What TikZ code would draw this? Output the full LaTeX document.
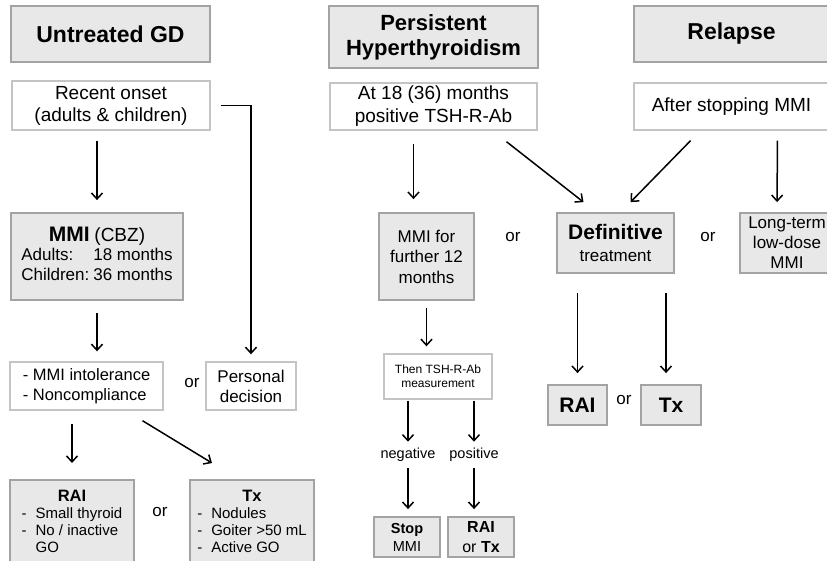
\documentclass[tikz,border=0pt]{standalone}
\usepackage{fontspec}
\setmainfont{Liberation Sans}
\usetikzlibrary{arrows.meta,calc}
\definecolor{boxfill}{HTML}{E8E8E8}
\definecolor{boxline}{HTML}{A3A3A3}
\definecolor{lightline}{HTML}{C4C4C4}
\newcommand{\fsz}[2]{\fontsize{#1}{#2}\selectfont}
\tikzset{title box/.style={draw=boxline, fill=boxfill, line width=2pt, align=center, font=\fsz{23}{25}\bfseries}}
\tikzset{grey box/.style={draw=boxline, fill=boxfill, line width=1.8pt, align=center, inner sep=2pt}}
\tikzset{white box/.style={draw=lightline, fill=white, line width=1.4pt, align=center, inner sep=2pt}}
\tikzset{or label/.style={font=\fsz{17}{20}}}
\tikzset{flow/.style={-{Straight Barb[length=6pt,width=11pt]}, line width=1.5pt, shorten <=10pt, shorten >=10pt}}

\begin{document}
\begin{tikzpicture}[x=1pt,y=-1pt]
\useasboundingbox (0,0) rectangle (827,560);
\clip (0,0) rectangle (827,560);
% column headers
\node[title box, minimum width=199pt, minimum height=56pt] (untreated) at (110.5,34) {Untreated GD};
\node[title box, font=\fsz{22}{25}\bfseries, minimum width=209pt, minimum height=62pt] (persistent) at (433.5,37) {Persistent\\Hyperthyroidism};
\node[title box, minimum width=195pt, minimum height=56pt] (relapse) at (731.5,34) {Relapse};
% situations
\node[white box, font=\fsz{19}{22}, minimum width=198pt, minimum height=49pt] (onset) at (111,105.5) {Recent onset\\(adults \& children)};
\node[white box, font=\fsz{19}{23}, minimum width=207pt, minimum height=47pt] (pos18) at (433.5,106.5) {At 18 (36) months\\positive TSH-R-Ab};
\node[white box, font=\fsz{19}{22}, minimum width=195pt, minimum height=47pt] (stopping) at (731.5,106.5) {After stopping MMI};
% first line of treatment
\node[grey box, font=\fsz{17}{20}, minimum width=172pt, minimum height=87pt] (mmi) at (97,256.5) {{\fsz{21}{23}\textbf{MMI}} {\fsz{19}{23}(CBZ)}\\\begin{tabular}{@{}l@{\hspace{4pt}}l@{}}Adults: & 18 months\\Children: & 36 months\end{tabular}};
\node[grey box, font=\fsz{17}{20.5}, minimum width=95pt, minimum height=87pt] (further) at (426.5,256.5) {MMI for\\further 12\\months};
\node[grey box, font=\fsz{17}{22}, minimum width=117pt, minimum height=60pt] (definitive) at (615.5,243) {{\fsz{21}{23}\bfseries Definitive}\\treatment};
\node[grey box, font=\fsz{17}{20}, minimum width=94pt, minimum height=60pt] (longterm) at (787,243) {Long-term\\low-dose\\MMI};
\node[or label] (or3) at (513,237) {or};
\node[or label] (or4) at (708,237) {or};
% reasons to stop
\node[white box, font=\fsz{16.5}{20}, align=left, minimum width=153pt, minimum height=48pt] (intolerance) at (86.5,386) {- MMI intolerance\\- Noncompliance};
\node[white box, font=\fsz{17}{20}, minimum width=90pt, minimum height=48pt] (personal) at (251,386) {Personal\\decision};
\node[or label] (or1) at (192,383) {or};
\node[white box, font=\fsz{12}{14}, minimum width=108pt, minimum height=45pt] (measure) at (438,376.5) {Then TSH-R-Ab\\measurement};
\node[grey box, font=\fsz{21}{23}\bfseries, minimum width=59pt, minimum height=40pt] (raiB) at (577.5,405) {RAI};
\node[grey box, font=\fsz{21}{23}\bfseries, minimum width=60pt, minimum height=40pt] (txB) at (671,405) {Tx};
\node[or label] (or5) at (624,400) {or};
% outcomes
\node[grey box, font=\fsz{15}{17}, anchor=north, minimum width=124pt, inner ysep=10pt] (raiA) at (72,479) {\begin{tabular}{@{}l@{\hspace{9pt}}l@{}}\multicolumn{2}{c}{\fsz{16.5}{17}\bfseries RAI}\\-&Small thyroid\\-&No / inactive\\&GO\end{tabular}};
\node[grey box, font=\fsz{15}{17}, anchor=north, minimum width=124pt, inner ysep=10pt] (txA) at (252,479) {\begin{tabular}{@{}l@{\hspace{9pt}}l@{}}\multicolumn{2}{c}{\fsz{16.5}{17}\bfseries Tx}\\-&Nodules\\-&Goiter >50 mL\\-&Active GO\end{tabular}};
\node[or label] (or2) at (160,512) {or};
\node[font=\fsz{14.5}{17}] (negative) at (408,455) {negative};
\node[font=\fsz{14.5}{17}] (positive) at (474,455) {positive};
\node[grey box, font=\fsz{14.5}{18}, minimum width=66pt, minimum height=40pt] (stopmmi) at (407,537) {\textbf{Stop}\\MMI};
\node[grey box, font=\fsz{16}{20}, minimum width=66pt, minimum height=40pt] (raiortx) at (481,537) {\textbf{RAI}\\or \textbf{Tx}};
% connectors
\draw[flow, shorten >=12pt] (mmi.north |- onset.south) -- (mmi.north);
\draw[flow, shorten >=7pt] (onset.east) -| (personal.north);
\draw[flow, shorten <=12pt] (mmi.south) -- (mmi.south |- intolerance.north);
\draw[flow, shorten <=13pt, shorten >=16pt] (raiA.north |- intolerance.south) -- (raiA.north);
\draw[flow, shorten <=0pt, shorten >=0pt] ([xshift=56pt,yshift=-10pt]intolerance.south) -- ([xshift=-40pt,yshift=16pt]txA.north);
\draw[flow, shorten <=13pt, shorten >=13pt] ([xshift=-20pt]pos18.south) -- ([xshift=-13pt]further.north);
\draw[flow, shorten <=0pt, shorten >=0pt] ([xshift=73pt,yshift=-11pt]pos18.south) -- ([xshift=-32pt,yshift=10pt]definitive.north);
\draw[flow, shorten <=0pt, shorten >=0pt] ([xshift=-41pt,yshift=-10pt]stopping.south) -- ([xshift=15pt,yshift=10pt]definitive.north);
\draw[flow] ([xshift=46pt]stopping.south) -- ([xshift=-10pt]longterm.north);
\draw[flow, shorten <=19pt, shorten >=11pt] (raiB.north |- definitive.south) -- (raiB.north);
\draw[flow, shorten <=19pt, shorten >=11pt] ($(txB.north |- definitive.south)+(-5,0)$) -- ($(txB.north)+(-5,0)$);
\draw[flow, shorten <=7pt, shorten >=7pt] (further.south) -- (further.south |- measure.north);
\draw[flow, shorten <=1pt, shorten >=3pt] (measure.south -| negative) -- (negative.north);
\draw[flow, shorten <=1pt, shorten >=3pt] (measure.south -| positive) -- (positive.north);
\draw[flow, shorten <=3pt, shorten >=7pt] (negative.south) -- (negative.south |- stopmmi.north);
\draw[flow, shorten <=3pt, shorten >=7pt] (positive.south) -- (positive.south |- raiortx.north);
\end{tikzpicture}
\end{document}
